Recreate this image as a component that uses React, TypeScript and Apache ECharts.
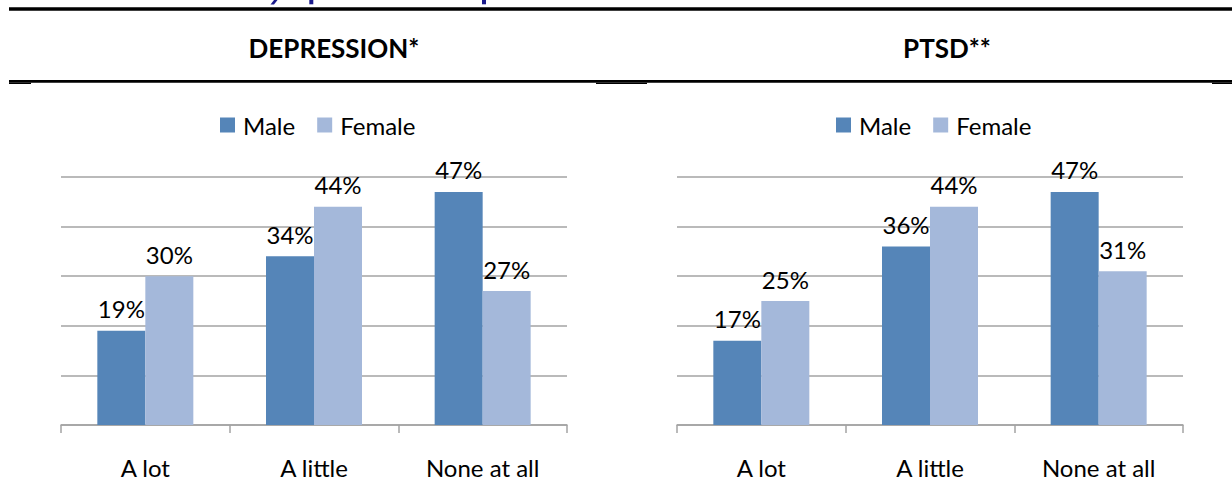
import React, { useEffect, useRef } from "react";
import * as echarts from "echarts";

const categories = ["A lot", "A little", "None at all"];
const seriesNames = ["Male", "Female"];
const depressionMale = [19, 34, 47];
const depressionFemale = [30, 44, 27];
const ptsdMale = [17, 36, 47];
const ptsdFemale = [25, 44, 31];
const yTicks = [0, 10, 20, 30, 40, 50];
const panelTitles = ["DEPRESSION*", "PTSD**"];

const MALE = "#5585B8";
const FEMALE = "#A4B8DA";
const GRID_GRAY = "#A3A3A3";
const FONT = "Lato, 'Open Sans', sans-serif";

export default function App() {
  const ref = useRef<HTMLDivElement>(null);
  useEffect(() => {
    if (!ref.current) return;
    const chart = echarts.init(ref.current, null, { renderer: "svg" });
    const grids = [
      { left: 61, top: 177, width: 506, height: 248 },
      { left: 677, top: 177, width: 506, height: 248 },
    ];
    const xAxis = grids.map((_, i) => ({
      type: "category",
      gridIndex: i,
      data: categories,
      axisLine: { show: true, lineStyle: { color: GRID_GRAY, width: 1.5 } },
      axisTick: { show: true, length: 8, alignWithLabel: false, lineStyle: { color: GRID_GRAY, width: 1.5 } },
      axisLabel: { color: "#000", fontSize: 24, fontFamily: FONT, margin: 30 },
    }));
    const yAxis = grids.map((_, i) => ({
      type: "value",
      gridIndex: i,
      min: yTicks[0],
      max: yTicks[yTicks.length - 1],
      interval: yTicks[1] - yTicks[0],
      axisLabel: { show: false },
      axisLine: { show: false },
      axisTick: { show: false },
      splitLine: { show: true, lineStyle: { color: GRID_GRAY, width: 1.5 } },
    }));
    const label = {
      show: true,
      position: "top",
      distance: 10,
      formatter: "{c}%",
      color: "#000",
      fontSize: 24,
      fontFamily: FONT,
    };
    const mk = (name: string, data: number[], idx: number, color: string) => ({
      type: "bar",
      name,
      data,
      xAxisIndex: idx,
      yAxisIndex: idx,
      barWidth: 48,
      barGap: "0%",
      itemStyle: { color },
      label,
    });
    const legend = (left: number) => ({
      left,
      top: 110,
      padding: 0,
      itemWidth: 15,
      itemHeight: 15,
      itemGap: 22,
      icon: "rect",
      data: seriesNames,
      selectedMode: false,
      textStyle: { color: "#000", fontSize: 24, fontFamily: FONT, lineHeight: 30, padding: [0, 0, 0, 3] },
    });
    const descender = (pts: number[][]) => ({
      type: "polygon",
      shape: { points: pts },
      style: { fill: "#1A1A8C" },
    });
    chart.setOption({
      animation: false,
      backgroundColor: "#fff",
      grid: grids,
      xAxis,
      yAxis,
      legend: [legend(220), legend(836)],
      series: [
        mk("Male", depressionMale, 0, MALE),
        mk("Female", depressionFemale, 0, FEMALE),
        mk("Male", ptsdMale, 1, MALE),
        mk("Female", ptsdFemale, 1, FEMALE),
      ],
      graphic: [
        { type: "rect", shape: { x: 9, y: 7.3, width: 1223, height: 3.4 }, style: { fill: "#000" } },
        { type: "rect", shape: { x: 9, y: 80, width: 1223, height: 2.7 }, style: { fill: "#000" } },
        { type: "rect", shape: { x: 9, y: 82.7, width: 22, height: 1.3 }, style: { fill: "#000" } },
        { type: "rect", shape: { x: 596, y: 82.7, width: 51, height: 1.3 }, style: { fill: "#000" } },
        { type: "rect", shape: { x: 1212, y: 82.7, width: 20, height: 1.3 }, style: { fill: "#000" } },
        descender([[274, 0], [277.5, 0], [274, 4.5], [270.5, 4.5]]),
        descender([[309.3, 0], [313.3, 0], [313.3, 4.3], [309.3, 4.3]]),
        descender([[482, 0], [486, 0], [486, 4.3], [482, 4.3]]),
        {
          type: "text",
          x: 334,
          y: 48,
          style: { text: panelTitles[0], fill: "#000", font: `bold 26px ${FONT}`, textAlign: "center", textVerticalAlign: "middle" },
        },
        {
          type: "text",
          x: 947,
          y: 48,
          style: { text: panelTitles[1], fill: "#000", font: `bold 26px ${FONT}`, textAlign: "center", textVerticalAlign: "middle" },
        },
      ],
    });
    return () => chart.dispose();
  }, []);
  return <div ref={ref} style={{ position: "absolute", left: 0, top: 0, width: 1232, height: 504 }} />;
}
